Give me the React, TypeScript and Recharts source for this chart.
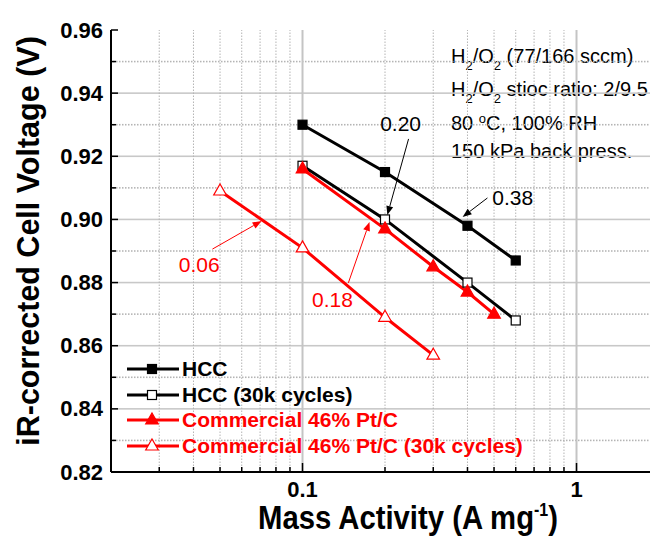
import React from 'react'
import {
  LineChart,
  Line,
  XAxis,
  YAxis,
  ReferenceArea,
  ReferenceLine,
  ReferenceDot,
  Legend,
  Customized,
} from 'recharts'

// mass activity (A mg-1) / iR-corrected cell voltage (V)
const hccMass = [0.1, 0.2, 0.4, 0.6]
const hccVolt = [0.93, 0.915, 0.898, 0.887]
const hcc30kMass = [0.1, 0.2, 0.4, 0.6]
const hcc30kVolt = [0.917, 0.9, 0.88, 0.868]
const ptcMass = [0.1, 0.2, 0.3, 0.4, 0.5]
const ptcVolt = [0.916, 0.897, 0.885, 0.877, 0.87]
const ptc30kMass = [0.05, 0.1, 0.2, 0.3]
const ptc30kVolt = [0.909, 0.891, 0.869, 0.857]

const seriesNames = [
  'HCC',
  'HCC (30k cycles)',
  'Commercial 46% Pt/C',
  'Commercial 46% Pt/C (30k cycles)',
]

const xTicks = [
  0.02, 0.03, 0.04, 0.05, 0.06, 0.07, 0.08, 0.09, 0.1, 0.2, 0.3, 0.4, 0.5,
  0.6, 0.7, 0.8, 0.9, 1, 2,
]
const xLabelled = [0.1, 1]
const xMinorGrid = [
  0.03, 0.04, 0.05, 0.06, 0.07, 0.08, 0.09, 0.2, 0.3, 0.4, 0.5, 0.6, 0.7, 0.8,
  0.9,
]
const yTicks = [
  0.82, 0.83, 0.84, 0.85, 0.86, 0.87, 0.88, 0.89, 0.9, 0.91, 0.92, 0.93, 0.94,
  0.95, 0.96,
]
const yLabelled = [0.82, 0.84, 0.86, 0.88, 0.9, 0.92, 0.94, 0.96]
const yMajorGrid = [0.84, 0.86, 0.88, 0.9, 0.92, 0.94]
const yMinorGrid = [0.83, 0.85, 0.87, 0.89, 0.91, 0.93, 0.95]
const xDomain = [0.02, 2]
const yDomain = [0.82, 0.96]

// slope annotations, in data coordinates
const notes = [
  { text: '0.06', color: '#ff0000', at: [0.042, 0.8856], from: [0.0469, 0.8906], to: [0.0709, 0.8995] },
  { text: '0.18', color: '#ff0000', at: [0.1287, 0.8745], from: [0.147, 0.8799], to: [0.1756, 0.8992] },
  { text: '0.20', color: '#000', at: [0.228, 0.9305], from: [0.2438, 0.9255], to: [0.204, 0.9014] },
  { text: '0.38', color: '#000', at: [0.585, 0.9068], from: [0.473, 0.9068], to: [0.384, 0.9008] },
]

const RED = '#ff0000'
const FONT = '"Liberation Sans", Arial, sans-serif'
const PLOT_LEFT = 103
const PLOT_RIGHT = 651
const PLOT_TOP = 22
const PLOT_BOTTOM = 464
// half thickness of a horizontal grid band, in volts
const BAND = 0.00025

const toPoints = (xs: number[], ys: number[]) => xs.map((x, i) => ({ x, y: ys[i] }))

const series = [
  { name: seriesNames[0], data: toPoints(hccMass, hccVolt), color: '#000', shape: 'square', filled: true },
  { name: seriesNames[1], data: toPoints(hcc30kMass, hcc30kVolt), color: '#000', shape: 'square', filled: false },
  { name: seriesNames[2], data: toPoints(ptcMass, ptcVolt), color: RED, shape: 'triangle', filled: true },
  { name: seriesNames[3], data: toPoints(ptc30kMass, ptc30kVolt), color: RED, shape: 'triangle', filled: false },
]

const Marker = ({ cx, cy, shape, color, filled }: any) => {
  const fill = filled ? color : '#fff'
  if (shape === 'square') {
    return <rect x={cx - 4.5} y={cy - 4.5} width={9} height={9} fill={fill} stroke={color} strokeWidth={1.2} />
  }
  return (
    <polygon
      points={`${cx},${cy - 7} ${cx + 6.3},${cy + 4} ${cx - 6.3},${cy + 4}`}
      fill={fill}
      stroke={color}
      strokeWidth={1.2}
    />
  )
}

const key = (v: number) => Math.round(v * 1000)
const isMajorY = (v: number) => yLabelled.some((t) => key(t) === key(v))

const BottomTick = (props: any) => {
  const { x, payload } = props
  const major = xLabelled.some((v) => key(v) === key(payload.value))
  return (
    <g>
      <line x1={x} x2={x} y1={PLOT_BOTTOM} y2={PLOT_BOTTOM - (major ? 9 : 5)} stroke="#000" strokeWidth={1.5} />
      {major && (
        <text x={x} y={PLOT_BOTTOM + 17} textAnchor="middle" dominantBaseline="central" fontSize={22} fontWeight="bold" fontFamily={FONT} fill="#000">
          {payload.value}
        </text>
      )}
    </g>
  )
}

const TopTick = (props: any) => {
  const { x, payload } = props
  const major = xLabelled.some((v) => key(v) === key(payload.value))
  return <line x1={x} x2={x} y1={PLOT_TOP} y2={PLOT_TOP + (major ? 9 : 4)} stroke="#000" strokeWidth={1.5} />
}

const LeftTick = (props: any) => {
  const { y, payload } = props
  const major = isMajorY(payload.value)
  return (
    <g>
      <line x1={PLOT_LEFT} x2={PLOT_LEFT + (major ? 7 : 5)} y1={y} y2={y} stroke="#000" strokeWidth={1.5} />
      {major && (
        <text x={PLOT_LEFT - 8} y={y} textAnchor="end" dominantBaseline="central" fontSize={22} fontWeight="bold" fontFamily={FONT} fill="#000">
          {payload.value.toFixed(2)}
        </text>
      )}
    </g>
  )
}

const RightTick = (props: any) => {
  const { y, payload } = props
  const major = isMajorY(payload.value)
  return <line x1={PLOT_RIGHT} x2={PLOT_RIGHT - (major ? 7 : 5)} y1={y} y2={y} stroke="#000" strokeWidth={1.5} />
}

// horizontal grid drawn as thin filled bands
const solidBand = (p: any) => (
  <rect x={p.x} y={p.y} width={p.width} height={Math.max(p.height, 1.5)} fill="#c8c8c8" />
)
const dottedBand = (p: any) => (
  <rect x={p.x} y={p.y} width={p.width} height={Math.max(p.height, 1.2)} fill="url(#hdots)" />
)

const arrowShape = (color: string) => (p: any) => {
  const { x1, y1, x2, y2 } = p
  const a = Math.atan2(y2 - y1, x2 - x1)
  const len = 9
  const w = 3.5
  const bx = x2 - len * Math.cos(a)
  const by = y2 - len * Math.sin(a)
  const pts = `${x2},${y2} ${bx - w * Math.sin(a)},${by + w * Math.cos(a)} ${bx + w * Math.sin(a)},${by - w * Math.cos(a)}`
  return (
    <g>
      <line x1={x1} y1={y1} x2={bx} y2={by} stroke={color} strokeWidth={1} />
      <polygon points={pts} fill={color} />
    </g>
  )
}

const LegendBox = () => (
  <div style={{ fontFamily: FONT }}>
    {series.map((s) => (
      <div key={s.name} style={{ display: 'flex', alignItems: 'center', height: 25.8 }}>
        <svg width={52} height={20}>
          <line x1={0} x2={52} y1={10} y2={10} stroke={s.color} strokeWidth={3} />
          <Marker cx={25} cy={10} shape={s.shape} color={s.color} filled={s.filled} />
        </svg>
        <span style={{ marginLeft: 3, fontSize: 21, fontWeight: 'bold', color: s.color, whiteSpace: 'nowrap' }}>
          {s.name}
        </span>
      </div>
    ))}
  </div>
)

const Defs = () => (
  <defs>
    <pattern id="hdots" patternUnits="userSpaceOnUse" x={0} y={0} width={3} height={600}>
      <rect x={0} y={0} width={1.5} height={600} fill="#b4b4b4" />
    </pattern>
  </defs>
)

const Texts = () => (
  <g fontFamily={FONT} fill="#000">
    <text
      transform="translate(20,233) rotate(-90)"
      textAnchor="middle"
      dominantBaseline="central"
      fontSize={30.5}
      fontWeight="bold"
    >
      iR-corrected Cell Voltage (V)
    </text>
    <text x={400} y={521} textAnchor="middle" fontSize={33} fontWeight="bold" textLength={300} lengthAdjust="spacingAndGlyphs">
      Mass Activity (A mg<tspan dy={-13} fontSize={18}>-1</tspan>
      <tspan dy={13}>)</tspan>
    </text>
    <g fontSize={20}>
      <text x={443} y={55}>
        H<tspan dy={7} fontSize={13}>2</tspan>
        <tspan dy={-7}>/O</tspan>
        <tspan dy={7} fontSize={13}>2</tspan>
        <tspan dy={-7}> (77/166 sccm)</tspan>
      </text>
      <text x={443} y={88}>
        H<tspan dy={7} fontSize={13}>2</tspan>
        <tspan dy={-7}>/O</tspan>
        <tspan dy={7} fontSize={13}>2</tspan>
        <tspan dy={-7}> stioc ratio: 2/9.5</tspan>
      </text>
      <text x={443} y={122}>
        80 <tspan dy={-7} fontSize={13}>o</tspan>
        <tspan dy={7}>C, 100% RH</tspan>
      </text>
      <text x={443} y={149.5}>150 kPa back press.</text>
    </g>
  </g>
)

const App = () => {
  return (
    <div style={{ width: 650, height: 528, overflow: 'hidden', position: 'relative', fontFamily: FONT }}>
      <LineChart width={652} height={528} margin={{ top: 22, right: 1, bottom: 34, left: 43 }}>
        <Customized component={Defs} />
        {yMinorGrid.map((v) => (
          <ReferenceArea key={`ym${v}`} y1={v - BAND} y2={v + BAND} ifOverflow="visible" shape={dottedBand} />
        ))}
        {yMajorGrid.map((v) => (
          <ReferenceArea key={`yM${v}`} y1={v - BAND} y2={v + BAND} ifOverflow="visible" shape={solidBand} />
        ))}
        {xMinorGrid.map((v) => (
          <ReferenceLine key={`xm${v}`} x={v} ifOverflow="visible" stroke="#b4b4b4" strokeWidth={1} strokeDasharray="1.5 1.5" />
        ))}
        {xLabelled.map((v) => (
          <ReferenceLine key={`xM${v}`} x={v} ifOverflow="visible" stroke="#c4c4c4" strokeWidth={2} />
        ))}
        <XAxis
          dataKey="x"
          type="number"
          scale="log"
          domain={xDomain}
          allowDataOverflow
          ticks={xTicks}
          interval={0}
          height={30}
          axisLine={{ stroke: '#000', strokeWidth: 2 }}
          tickLine={false}
          tick={BottomTick}
        />
        <XAxis
          xAxisId="top"
          orientation="top"
          dataKey="x"
          type="number"
          scale="log"
          domain={xDomain}
          allowDataOverflow
          ticks={xTicks}
          interval={0}
          height={0}
          axisLine={{ stroke: '#000', strokeWidth: 2 }}
          tickLine={false}
          tick={TopTick}
        />
        <YAxis
          type="number"
          domain={yDomain}
          allowDataOverflow
          ticks={yTicks}
          interval={0}
          width={60}
          axisLine={{ stroke: '#000', strokeWidth: 2 }}
          tickLine={false}
          tick={LeftTick}
        />
        <YAxis
          yAxisId="right"
          orientation="right"
          type="number"
          domain={yDomain}
          allowDataOverflow
          ticks={yTicks}
          interval={0}
          width={0}
          axisLine={{ stroke: '#000', strokeWidth: 2 }}
          tickLine={false}
          tick={RightTick}
        />

        {series.map((s) => (
          <Line
            key={s.name}
            name={s.name}
            data={s.data}
            dataKey="y"
            type="linear"
            stroke={s.color}
            strokeWidth={3}
            isAnimationActive={false}
            activeDot={false}
            dot={(p: any) => (
              <Marker key={`${s.name}-${p.index}`} cx={p.cx} cy={p.cy} shape={s.shape} color={s.color} filled={s.filled} />
            )}
          />
        ))}

        {notes.map((n) => (
          <ReferenceLine
            key={`a${n.text}`}
            segment={[
              { x: n.from[0], y: n.from[1] },
              { x: n.to[0], y: n.to[1] },
            ]}
            shape={arrowShape(n.color)}
          />
        ))}
        {notes.map((n) => (
          <ReferenceDot
            key={`t${n.text}`}
            x={n.at[0]}
            y={n.at[1]}
            r={0}
            shape={(p: any) => (
              <text x={p.cx} y={p.cy} textAnchor="middle" dominantBaseline="central" fontSize={21} fontFamily={FONT} fill={n.color}>
                {n.text}
              </text>
            )}
          />
        ))}

        <Customized component={Texts} />
        <Legend
          layout="vertical"
          align="center"
          verticalAlign="middle"
          content={LegendBox}
          wrapperStyle={{ left: 119, top: 348, width: 'auto' }}
        />
      </LineChart>
    </div>
  )
}

export default App
